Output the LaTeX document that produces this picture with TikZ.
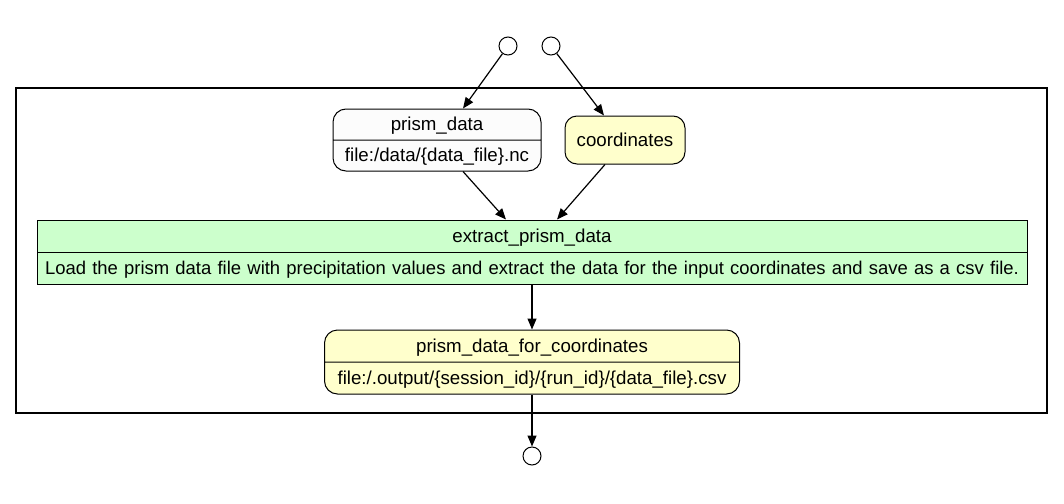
\documentclass[tikz,border=0pt]{standalone}
\usepackage{fontspec}
\setmainfont{Liberation Sans}
\usetikzlibrary{arrows.meta,shapes.multipart}
\definecolor{boxwhite}{HTML}{FCFCFC}
\definecolor{boxyellow}{HTML}{FFFFCC}
\definecolor{boxgreen}{HTML}{CCFFCC}
\newcommand{\rowstrut}{\rule[-4.5pt]{0pt}{21pt}}

\begin{document}
\begin{tikzpicture}[x=1pt, y=-1pt, >={Triangle[length=11pt,width=9pt]},
  every node/.style={font=\fontsize{18.7}{22}\selectfont},
  port/.style={circle, draw, line width=1pt, fill=white, minimum size=18pt, inner sep=0pt},
  datafile/.style={rectangle split, rectangle split parts=2, draw, line width=1pt,
    rounded corners=13pt, align=center, inner xsep=0pt, inner ysep=4.5pt},
  param/.style={draw, line width=1pt, fill=boxyellow, rounded corners=12pt,
    minimum width=120pt, minimum height=48pt, inner sep=0pt},
  stepbox/.style={rectangle split, rectangle split parts=2, draw, line width=1pt,
    fill=boxgreen, align=center, inner xsep=0pt, inner ysep=5pt},
  flow/.style={->, line width=1.2pt}]

\useasboundingbox (0,0) rectangle (1064,503);

% cluster
\draw [line width=2pt] (16,88) rectangle (1047,413);

\foreach \n/\x/\y in {in-1/508/46, in-2/551/46, out-1/532/456}
  \node [port] (\n) at (\x,\y) {};

\node [datafile, fill=boxwhite, text width=208pt] (prism-data) at (437,140)
  {\rowstrut prism\_data \nodepart{two}\rowstrut file:/data/\{data\_file\}.nc};

\node [param] (coordinates) at (625,140) {coordinates};

\node [stepbox, text width=990pt] (extract) at (532,252)
  {\rowstrut extract\_prism\_data \nodepart{two}\rowstrut\fontsize{18.45}{22}\selectfont Load the prism data file with precipitation values and extract the data for the input coordinates and save as a csv file.};

\node [datafile, fill=boxyellow, text width=415pt, inner ysep=5pt] (for-coords) at (532,362)
  {\rowstrut prism\_data\_for\_coordinates \nodepart{two}\rowstrut file:/.output/\{session\_id\}/\{run\_id\}/\{data\_file\}.csv};

\draw [flow] (in-1) -- ([xshift=26pt]prism-data.north);
\draw [flow] (in-2) -- ([xshift=-21pt]coordinates.north);
\draw [flow] ([xshift=26pt]prism-data.south) -- ([xshift=-26pt]extract.north);
\draw [flow] ([xshift=-20pt]coordinates.south) -- ([xshift=25pt]extract.north);
\draw [flow] (extract.south) -- (for-coords.north);
\draw [flow] (for-coords.south) -- (out-1);

\end{tikzpicture}
\end{document}
